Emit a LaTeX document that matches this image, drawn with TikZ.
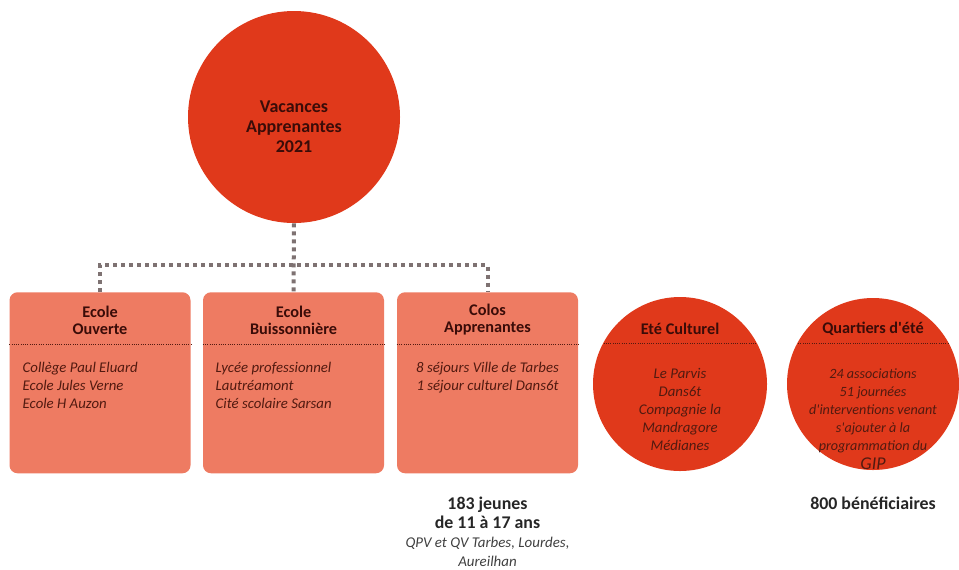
\documentclass[tikz,border=0pt]{standalone}
\usepackage{fontspec}
\setmainfont{Carlito}
\definecolor{vred}{HTML}{E0391B}
\definecolor{salmon}{HTML}{EE7B62}
\definecolor{ink}{HTML}{3A0C08}
\definecolor{inkit}{HTML}{521A10}
\definecolor{link}{HTML}{7E7272}
\tikzset{
  boxe/.style={fill=salmon, rounded corners=6, minimum width=135.75, minimum height=135.75, anchor=north, inner sep=0},
  rond/.style={circle, fill=vred, inner sep=0},
  titre/.style={font=\fontsize{12.2}{12.75}\selectfont\bfseries, text=ink, align=center},
  liste/.style={font=\fontsize{11.1}{13.5}\selectfont\itshape, text=inkit},
  sep/.style={densely dotted, draw=inkit, line width=0.7},
  lien/.style={draw=link, line width=3, dash pattern=on 3 off 3}
}
\begin{document}
\begin{tikzpicture}[x=0.75pt, y=-0.75pt]
\useasboundingbox (0,0) rectangle (959,569);
\node [rond, minimum size=159] (vac) at (294,117) {};
\node [titre, font=\fontsize{13.5}{15}\selectfont\bfseries] (vactxt) at (294,127) {Vacances\\Apprenantes\\2021};
\node [boxe] (ouv) at (100,292) {};
\node [boxe] (buis) at (293.5,292) {};
\node [boxe] (colo) at (487.5,292) {};
\coordinate (hub) at (294,265);
\draw [lien] (vac.south) -- (buis.north);
\draw [lien] (ouv.north) |- (hub) -| (colo.north);
\draw [sep] (ouv.west |- 0,344) -- (ouv.east |- 0,344);
\draw [sep] (buis.west |- 0,344) -- (buis.east |- 0,344);
\draw [sep] (colo.west |- 0,344) -- (colo.east |- 0,344);
\node [titre] (ouvt) at (100,320) {Ecole\\Ouverte};
\node [titre] (buist) at (293.5,320) {Ecole\\Buissonnière};
\node [titre] (colot) at (487.5,320) {Colos\\Apprenantes};
\node [liste, align=left, anchor=north west] (ouvl) at (18,358) {Collège Paul Eluard\\Ecole Jules Verne\\Ecole H Auzon};
\node [liste, align=left, anchor=north west] (buisl) at (211,358) {Lycée professionnel\\Lautréamont\\Cité scolaire Sarsan};
\node [liste, align=center, anchor=north] (colol) at (487.5,358) {8 séjours Ville de Tarbes\\1 séjour culturel Dans6t};
\node [rond, minimum size=130.5] (ete) at (680,384) {};
\node [rond, minimum size=129] (qua) at (873,384) {};
\begin{scope}
\clip (680,384) circle [radius=87];
\draw [sep] (590,343) -- (770,343);
\end{scope}
\begin{scope}
\clip (873,384) circle [radius=86];
\draw [sep] (780,343) -- (960,343);
\end{scope}
\node [titre] (etet) at (680,329) {Eté Culturel};
\node [titre] (quat) at (873,329) {Quartiers d\textquotesingle été};
\node [liste, align=center] (etel) at (680,409) {Le Parvis\\Dans6t\\Compagnie la\\Mandragore\\Médianes};
\node [liste, align=center, font=\fontsize{10.6}{13.5}\selectfont\itshape] (qual) at (873,419) {24 associations\\51 journées\\d\textquotesingle interventions venant\\s\textquotesingle ajouter à la\\programmation du\\[1pt]{\fontsize{13.5}{13.5}\selectfont GIP}};
\node [font=\fontsize{13.4}{14.25}\selectfont\bfseries, text=black!85, align=center] (jeunes) at (487.5,512.5) {183 jeunes\\de 11 à 17 ans};
\node [liste, text=black!75, align=center, font=\fontsize{11.2}{14.25}\selectfont\itshape] (lieux) at (487.5,551.5) {QPV et QV Tarbes, Lourdes,\\Aureilhan};
\node [font=\fontsize{13.4}{14.25}\selectfont\bfseries, text=black!85] (benef) at (873,503) {800 bénéficiaires};
\end{tikzpicture}
\end{document}
